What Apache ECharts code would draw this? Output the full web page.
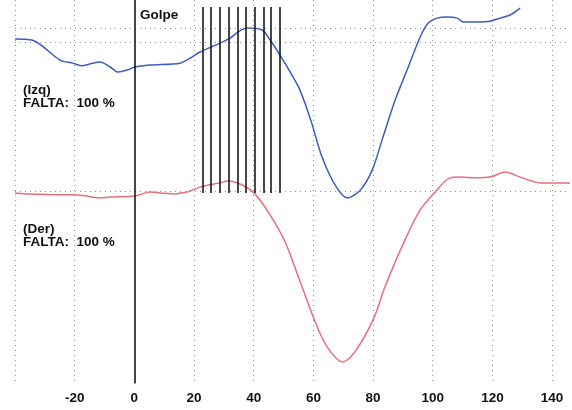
<!DOCTYPE html>
<html>
<head>
<meta charset="utf-8">
<script src="https://cdn.jsdelivr.net/npm/echarts@6/dist/echarts.min.js"></script>
<style>
  html, body { margin: 0; padding: 0; background: #fff; }
  #chart { width: 572px; height: 410px; }
</style>
</head>
<body>
<div id="chart"></div>
<script>
// Time axis (frames relative to the strike) and the two traces, in relative units (0-100)
const izqT = [-40, -34.3, -24.9, -20.6, -17.5, -14.9, -11.5, -8.1, -5.5, -2.4, 0.2, 5.3, 15.3, 18.7, 22.0, 28.7, 32.1, 34.8, 37.8, 42.8, 45.5, 48.8, 52.2, 55.5, 59.2, 62.9, 67.3, 71.3, 75.7, 79.7, 83.0, 87.4, 91.4, 95.8, 98.5, 101.5, 104.8, 108.2, 110.2, 115.9, 119.2, 122.6, 125.9, 129.3];
const izqV = [89.9, 89.6, 84.4, 83.6, 82.9, 83.4, 83.9, 82.6, 81.3, 81.8, 82.6, 83.1, 83.6, 84.9, 86.5, 88.8, 90.1, 91.7, 92.7, 92.2, 89.6, 85.7, 81.3, 76.6, 68.6, 59.2, 51.9, 48.6, 50.6, 55.8, 63.6, 74.0, 81.8, 90.4, 94.0, 95.3, 95.6, 95.3, 94.3, 94.3, 94.5, 95.3, 96.1, 97.9];

const derT = [-40, -35, -24.9, -19.9, -11.5, -8.1, 0.2, 5.3, 8.6, 13.6, 15.3, 17.7, 22.0, 28.7, 31.4, 35.4, 40.1, 45.5, 50.5, 54.5, 60.6, 64.6, 69.9, 73.9, 80.0, 84.0, 90.7, 95.8, 100.8, 105.8, 109.2, 114.2, 119.2, 124.3, 129.3, 136.0, 146.0];
const derV = [49.9, 49.6, 49.4, 49.4, 48.6, 48.8, 49.1, 50.1, 49.9, 49.6, 49.9, 50.1, 51.4, 52.5, 53.0, 52.2, 49.9, 44.2, 37.2, 29.1, 16.4, 9.9, 6.0, 8.6, 16.9, 25.5, 37.7, 45.5, 50.1, 53.8, 54.0, 53.8, 54.0, 55.3, 54.0, 52.5, 52.5];

// Reference levels for each trace
const izqLevels = [92.7, 89.1];
const derLevels = [50.4];

// Strike instant and the marker lines that follow it
const golpeT = 0;
const marksT = [22.8, 25.6, 28.7, 31.5, 34.7, 37.3, 40.2, 43.2, 45.8, 48.8];
const marksTop = 98.2;
const marksBottom = 49.9;

const golpeLabel = 'Golpe';
const izqLabel = ['(Izq)', 'FALTA:  100 %'];
const derLabel = ['(Der)', 'FALTA:  100 %'];

const zip = (a, b) => a.map((v, i) => [v, b[i]]);

const levelStyle = { color: '#8f8f8f', type: [1, 4], width: 1 };
const textFont = 'bold 13.5px "Liberation Sans", Arial, sans-serif';

const chart = echarts.init(document.getElementById('chart'), null, { renderer: 'canvas' });

chart.setOption({
  animation: false,
  backgroundColor: '#ffffff',
  grid: { left: 15, right: 2, top: 0, bottom: 25, containLabel: false },
  xAxis: {
    type: 'value',
    min: -40,
    max: 146,
    interval: 20,
    axisLine: { show: false },
    axisTick: { show: false },
    axisLabel: {
      show: true,
      showMinLabel: false,
      showMaxLabel: false,
      color: '#111',
      fontFamily: 'Liberation Sans, Arial, sans-serif',
      fontWeight: 'bold',
      fontSize: 13.5,
      margin: 6
    },
    splitLine: {
      show: true,
      showMaxLine: false,
      lineStyle: { color: '#8f8f8f', type: [1, 4], width: 1 }
    }
  },
  yAxis: {
    type: 'value',
    min: 0,
    max: 100,
    axisLine: { show: false },
    axisTick: { show: false },
    axisLabel: { show: false },
    splitLine: { show: false }
  },
  series: [
    {
      name: 'Der',
      type: 'line',
      data: zip(derT, derV),
      smooth: 0.3,
      symbol: 'none',
      lineStyle: { color: '#e5707c', width: 1.5 },
      z: 3,
      markLine: {
        silent: true,
        symbol: 'none',
        label: { show: false },
        lineStyle: levelStyle,
        data: derLevels.map(v => ({ yAxis: v }))
      }
    },
    {
      name: 'Izq',
      type: 'line',
      data: zip(izqT, izqV),
      smooth: 0.3,
      symbol: 'none',
      lineStyle: { color: '#3d5cc0', width: 1.5 },
      z: 3,
      markLine: {
        silent: true,
        symbol: 'none',
        label: { show: false },
        lineStyle: levelStyle,
        data: izqLevels.map(v => ({ yAxis: v }))
      }
    },
    {
      name: 'marcas',
      type: 'line',
      data: [],
      z: 4,
      markLine: {
        silent: true,
        symbol: 'none',
        label: { show: false },
        lineStyle: { color: '#1a1a1a', type: 'solid', width: 1.6 },
        data: [
          [{ coord: [golpeT, 0.4] }, { coord: [golpeT, 100] }],
          ...marksT.map(t => [{ coord: [t, marksBottom] }, { coord: [t, marksTop] }])
        ]
      }
    }
  ],
  graphic: [
    { type: 'text', left: 140, top: 8, style: { text: golpeLabel, fill: '#111', font: textFont } },
    { type: 'text', left: 23, top: 83, style: { text: izqLabel.join('\n'), lineHeight: 13, fill: '#111', font: textFont } },
    { type: 'text', left: 23, top: 222, style: { text: derLabel.join('\n'), lineHeight: 13, fill: '#111', font: textFont } }
  ]
});
</script>
</body>
</html>
